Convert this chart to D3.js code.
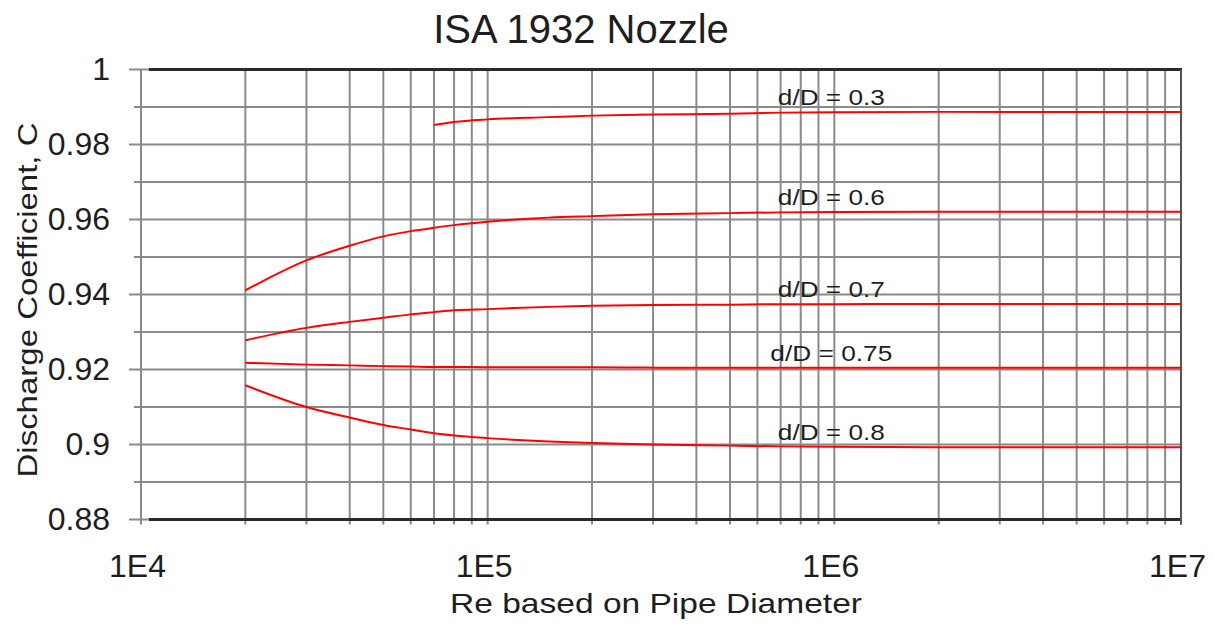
<!DOCTYPE html>
<html>
<head>
<meta charset="utf-8">
<script src="https://cdn.jsdelivr.net/npm/d3@7"></script>
<style>
  html, body { margin: 0; padding: 0; background: #fff; }
  svg { display: block; }
  text { font-family: "Liberation Sans", Arial, sans-serif; fill: #1e1e1e; }
</style>
</head>
<body>
<svg id="chart" width="1214" height="624"></svg>
<script>
// Reynolds numbers (based on pipe diameter) at which C was read
const reynolds = [2e4, 3e4, 4e4, 5e4, 6e4, 7e4, 8e4, 1e5, 1.5e5, 2e5, 3e5, 5e5, 7e5, 1e6, 2e6, 5e6, 1e7];

// Discharge coefficient per diameter ratio (null = not plotted)
const c_03  = [null, null, null, null, null, 0.9852, 0.9860, 0.9867, 0.9873, 0.9877, 0.9880, 0.9882, 0.9885, 0.9886, 0.9887, 0.9887, 0.9887];
const c_06  = [0.9411, 0.9491, 0.9530, 0.9555, 0.9569, 0.9578, 0.9585, 0.9594, 0.9605, 0.9609, 0.9614, 0.9617, 0.9619, 0.9620, 0.9621, 0.9621, 0.9621];
const c_07  = [0.9278, 0.9311, 0.9327, 0.9338, 0.9347, 0.9353, 0.9358, 0.9361, 0.9367, 0.9370, 0.9372, 0.9373, 0.9374, 0.9374, 0.9375, 0.9375, 0.9375];
const c_075 = [0.9218, 0.9213, 0.9211, 0.9209, 0.9208, 0.9207, 0.9207, 0.9206, 0.9206, 0.9206, 0.9205, 0.9205, 0.9205, 0.9205, 0.9205, 0.9205, 0.9205];
const c_08  = [0.9158, 0.9100, 0.9072, 0.9052, 0.9040, 0.9030, 0.9024, 0.9017, 0.9008, 0.9004, 0.9000, 0.8997, 0.8995, 0.8994, 0.8993, 0.8993, 0.8993];

const seriesNames = ["d/D = 0.3", "d/D = 0.6", "d/D = 0.7", "d/D = 0.75", "d/D = 0.8"];
const seriesValues = [c_03, c_06, c_07, c_075, c_08];

// Axis ticks
const yTickValues = [0.88, 0.90, 0.92, 0.94, 0.96, 0.98, 1.00];
const yTickLabels = ["0.88", "0.9", "0.92", "0.94", "0.96", "0.98", "1"];
const xTickValues = [1e4, 1e5, 1e6, 1e7];
const xTickLabels = ["1E4", "1E5", "1E6", "1E7"];

const svg = d3.select("#chart");

const x = d3.scaleLog().domain([1e4, 1e7]).range([141, 1181]);
const y = d3.scaleLinear().domain([0.88, 1.0]).range([519.5, 69.5]);

const gridColor = "#8a8a8a";

// Vertical grid: every k * 10^n across the three decades
const vGrid = [];
for (let n = 4; n <= 6; n++) for (let k = 1; k <= 9; k++) vGrid.push(k * Math.pow(10, n));
vGrid.push(1e7);

svg.append("g").selectAll("line").data(vGrid).join("line")
  .attr("x1", d => x(d)).attr("x2", d => x(d))
  .attr("y1", y(1.0)).attr("y2", y(0.88) + 5)
  .attr("stroke", gridColor).attr("stroke-width", 2);

// Horizontal grid every 0.01
const hGrid = d3.range(0, 13).map(i => +(0.88 + i * 0.01).toFixed(2));
svg.append("g").selectAll("line").data(hGrid).join("line")
  .attr("x1", (d, i) => x(1e4) - (i % 2 === 0 ? 12 : 7))
  .attr("x2", x(1e7))
  .attr("y1", d => y(d)).attr("y2", d => y(d))
  .attr("stroke", gridColor).attr("stroke-width", 2);

// Frame: dark top / bottom, right edge
svg.append("line").attr("x1", 149).attr("x2", x(1e7) + 1).attr("y1", y(1.0)).attr("y2", y(1.0))
  .attr("stroke", "#2a2a2a").attr("stroke-width", 3);
svg.append("line").attr("x1", 149).attr("x2", x(1e7) + 1).attr("y1", y(0.88)).attr("y2", y(0.88))
  .attr("stroke", "#2a2a2a").attr("stroke-width", 3);
svg.append("line").attr("x1", x(1e7)).attr("x2", x(1e7)).attr("y1", y(1.0)).attr("y2", y(0.88) + 5)
  .attr("stroke", "#555").attr("stroke-width", 2);

// Y axis labels
const yAxis = svg.append("g").attr("transform", `translate(${x(1e4)},0)`)
  .call(d3.axisLeft(y).tickValues(yTickValues).tickSize(0).tickPadding(31)
    .tickFormat((d, i) => yTickLabels[i]));
yAxis.select(".domain").remove();
yAxis.selectAll("text").style("font-size", "32px").style("font-family", null).attr("fill", "#1e1e1e");

// X axis labels
const xAxis = svg.append("g").attr("transform", `translate(0,${y(0.88)})`)
  .call(d3.axisBottom(x).tickValues(xTickValues).tickSize(0)
    .tickFormat((d, i) => xTickLabels[i]));
xAxis.select(".domain").remove();
xAxis.selectAll("text").style("font-size", "32px").style("font-family", null)
  .attr("fill", "#1e1e1e").attr("dy", null).attr("y", 57).attr("dx", -4);

// Curves
const line = d3.line()
  .defined(d => d[1] !== null)
  .x(d => x(d[0])).y(d => y(d[1]))
  .curve(d3.curveMonotoneX);

seriesValues.forEach(vals => {
  svg.append("path")
    .datum(reynolds.map((r, i) => [r, vals[i]]))
    .attr("d", line)
    .attr("fill", "none")
    .attr("stroke", "#ff0000")
    .attr("stroke-width", 2);
});

// Curve labels just above each line near Re = 1E6
const labelLengths = [107, 107, 107, 122, 107];
seriesValues.forEach((vals, i) => {
  svg.append("text")
    .attr("x", x(1e6) - 3)
    .attr("y", y(vals[vals.length - 1]) - 7)
    .attr("text-anchor", "middle")
    .attr("textLength", labelLengths[i])
    .attr("lengthAdjust", "spacingAndGlyphs")
    .style("font-size", "22px")
    .text(seriesNames[i]);
});

// Title and axis titles
svg.append("text").attr("x", 581).attr("y", 43).attr("text-anchor", "middle")
  .style("font-size", "40px").attr("fill", "#222")
  .text("ISA 1932 Nozzle");

svg.append("text").attr("x", 656).attr("y", 613).attr("text-anchor", "middle")
  .attr("textLength", 412).attr("lengthAdjust", "spacingAndGlyphs")
  .style("font-size", "28px")
  .text("Re based on Pipe Diameter");

svg.append("text")
  .attr("transform", "translate(37,300) rotate(-90)")
  .attr("text-anchor", "middle")
  .attr("textLength", 355).attr("lengthAdjust", "spacingAndGlyphs")
  .style("font-size", "28px")
  .text("Discharge Coefficient, C");
</script>
</body>
</html>
